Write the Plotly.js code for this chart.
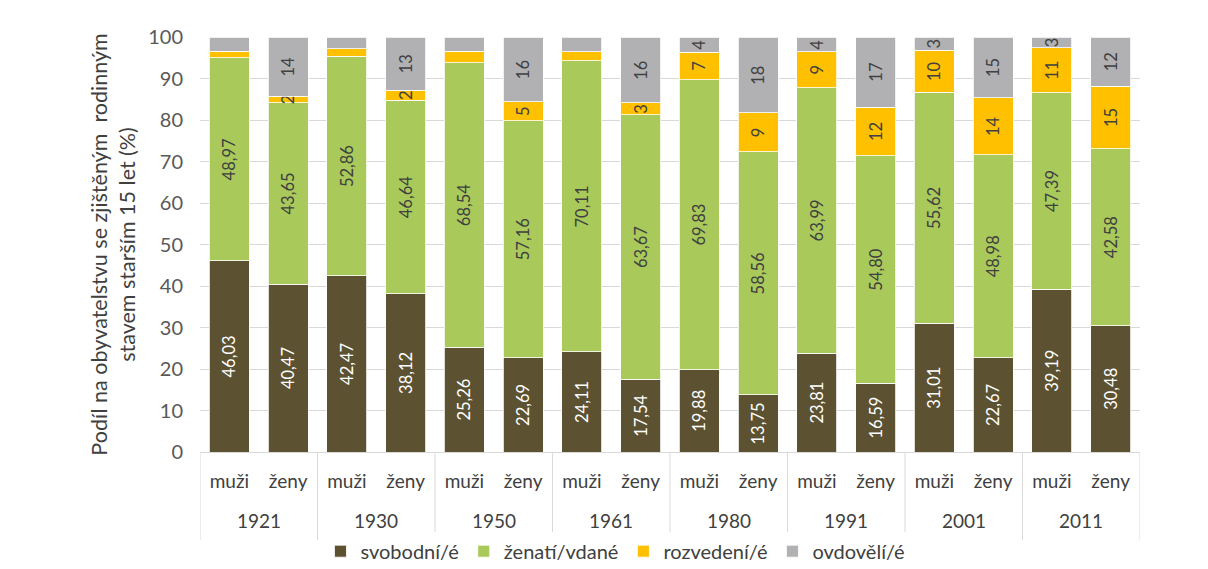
<!DOCTYPE html>
<html>
<head>
<meta charset="utf-8">
<script src="https://cdn.plot.ly/plotly-3.0.1.min.js"></script>
<style>html,body{margin:0;padding:0;background:#fff;}#chart{width:1208px;height:569px;}</style>
</head>
<body>
<div id="chart"></div>
<script>
const years = ["1921","1930","1950","1961","1980","1991","2001","2011"];
const sexes = ["muži","ženy"];
// bar order: 1921 muži, 1921 ženy, 1930 muži, ...
const svobodni = [46.03,40.47,42.47,38.12,25.26,22.69,24.11,17.54,19.88,13.75,23.81,16.59,31.01,22.67,39.19,30.48];
const zenati   = [48.97,43.65,52.86,46.64,68.54,57.16,70.11,63.67,69.83,58.56,63.99,54.80,55.62,48.98,47.39,42.58];
const rozvedeni= [1.6,1.6,1.8,2.4,2.8,4.5,2.2,2.9,6.6,9.4,8.6,11.7,10.2,13.7,10.8,15.1];
const ovdoveli = [3.3,14.2,2.8,12.8,3.3,15.6,3.5,15.8,3.6,18.2,3.5,16.9,3.1,14.6,2.6,11.8];
const hiddenSmall = [0,2,4,6]; // muži 1921–1961: small segments shown without labels

const keys = [], tickText = [];
years.forEach(y => sexes.forEach(s => { keys.push(y + ' ' + s); tickText.push(s); }));

const fmt2 = v => v.toFixed(2).replace('.', ',');
const fmt0 = arr => arr.map((v,i) => hiddenSmall.includes(i) ? '' : String(Math.round(v)));

const FONT = 'Lato';
const common = {
  type: 'bar', x: keys,
  textposition: 'inside', insidetextanchor: 'middle', textangle: -90,
  constraintext: 'none', hoverinfo: 'y+name'
};
const line = {color: '#ffffff', width: 0.8};
const traces = [
  Object.assign({}, common, {name: 'svobodní/é', y: svobodni, text: svobodni.map(fmt2),
    marker: {color: '#5C5232', line: line}, textfont: {color: '#ffffff', size: 16.5, family: FONT}}),
  Object.assign({}, common, {name: 'ženatí/vdané', y: zenati, text: zenati.map(fmt2),
    marker: {color: '#A9C95B', line: line}, textfont: {color: '#404040', size: 16.5, family: FONT}}),
  Object.assign({}, common, {name: 'rozvedení/é', y: rozvedeni, text: fmt0(rozvedeni),
    marker: {color: '#FFC000', line: line}, textfont: {color: '#404040', size: 16.5, family: FONT}}),
  Object.assign({}, common, {name: 'ovdovělí/é', y: ovdoveli, text: fmt0(ovdoveli),
    marker: {color: '#B1B1B4', line: line}, textfont: {color: '#404040', size: 16.5, family: FONT}})
];

// year labels below the sex labels, and group dividers
const annotations = years.map((y, g) => ({
  text: y, xref: 'x', yref: 'paper', x: 2*g + 0.5, y: -0.166, yanchor: 'middle',
  showarrow: false, font: {size: 19, color: '#404040', family: FONT}
}));
const shapes = [];
for (let g = 0; g <= years.length; g++) {
  shapes.push({type: 'line', xref: 'x', yref: 'paper', x0: 2*g - 0.5, x1: 2*g - 0.5, y0: 0, y1: -0.212,
    line: {color: '#D9D9D9', width: 1}});
}

const layout = {
  width: 1208, height: 569,
  margin: {l: 200, r: 68, t: 37, b: 117, autoexpand: false},
  barmode: 'stack', bargap: 0.32,
  paper_bgcolor: '#ffffff', plot_bgcolor: '#ffffff',
  font: {family: FONT, color: '#404040', size: 17},
  xaxis: {
    type: 'category', tickvals: keys, ticktext: tickText, range: [-0.5, keys.length - 0.5],
    showline: true, linecolor: '#D9D9D9', linewidth: 1, ticks: '', showgrid: false,
    tickfont: {size: 19, color: '#404040'}, ticklabelstandoff: 12, automargin: false
  },
  yaxis: {
    range: [0, 100], dtick: 10, showgrid: true, gridcolor: '#D9D9D9', gridwidth: 1,
    zeroline: false, tickfont: {size: 20, color: '#595959'}, ticks: '', automargin: false,
    ticklabelstandoff: 16,
    title: {text: 'Podíl na obyvatelstvu se zjištěným  rodinným<br>stavem starším 15 let (%)',
      font: {size: 21.5, color: '#404040'}, standoff: 6}
  },
  annotations: annotations,
  shapes: shapes,
  legend: {orientation: 'h', x: 0.442, xanchor: 'center', y: -0.192, yanchor: 'top',
    font: {size: 20, color: '#404040'}, traceorder: 'normal', itemwidth: 30},
  showlegend: true
};
Plotly.newPlot('chart', traces, layout, {displayModeBar: false, staticPlot: true});
</script>
</body>
</html>
